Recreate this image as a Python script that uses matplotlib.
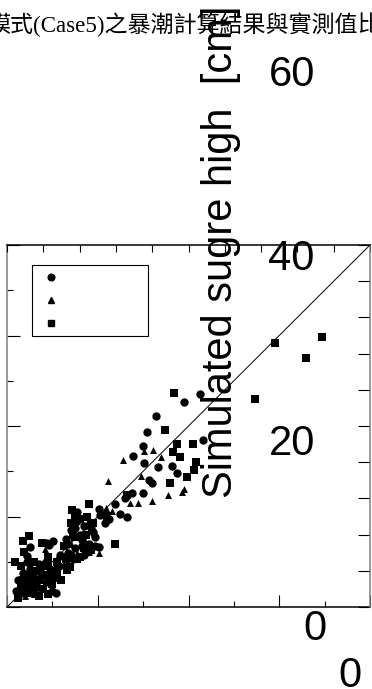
import matplotlib
matplotlib.use("Agg")
import matplotlib.pyplot as plt
from matplotlib.lines import Line2D
from matplotlib.ticker import MultipleLocator

plt.rcParams['font.family'] = ['Liberation Sans', 'DejaVu Sans']

circle_x = [42.5, 39.0, 32.8, 30.9, 43.2, 30.0, 27.8, 30.2, 33.3, 36.4, 37.5, 32.0, 31.4,
            30.0, 27.5, 26.0, 23.8, 20.3, 20.5, 26.4, 24.9, 18.3, 15.4, 20.3, 19.4, 8.8,
            10.1, 9.3, 5.1, 4.4, 11.0, 2.0, 10.8, 11.7,
            2.5, 4.0, 5.0, 6.5, 7.5, 8.5, 9.5, 4.5, 6.0, 10.0, 11.5, 7.0, 3.5,
            3.0, 5.5, 8.0, 9.5, 6.0, 4.0, 12.5,
            13.0, 14.0, 15.0, 16.0, 17.0, 18.0, 13.5, 15.5, 17.0, 19.0, 14.5, 16.5, 21.5, 22.5,
            13.5, 15.0, 16.5, 18.5, 14.0, 19.5]
circle_y = [47.1, 45.3, 42.2, 38.7, 36.9, 35.6, 33.4, 31.8, 30.9, 31.2, 29.6, 27.4, 28.0,
            25.2, 25.2, 24.1, 22.8, 21.7, 20.3, 19.9, 20.6, 18.6, 21.0, 13.3, 15.5, 14.1,
            14.6, 13.7, 13.3, 11.3, 8.6, 3.5, 3.1, 11.5,
            6.0, 4.0, 8.5, 5.0, 7.5, 5.5, 8.5, 10.0, 3.5, 3.5, 9.0, 9.5, 7.5,
            3.0, 7.0, 7.0, 5.5, 6.5, 5.5, 11.0,
            15.0, 17.0, 13.0, 16.0, 18.0, 14.0, 12.0, 19.0, 11.5, 16.5, 10.5, 13.5, 18.5, 19.5,
            14.0, 17.5, 14.8, 17.5, 11.5, 13.5]

tri_x = [30.2, 32.2, 33.9, 25.6, 22.3, 29.5, 39.0, 35.5, 38.6, 32.0, 28.9, 27.1, 21.8, 23.1,
         19.2, 18.1, 20.3, 16.1, 8.4, 5.0, 7.0, 8.0, 4.0, 10.5, 14.0, 17.0, 15.5, 12.5, 6.0]
tri_y = [34.5, 34.7, 33.1, 32.5, 27.8, 28.9, 26.1, 24.8, 25.4, 23.4, 23.0, 23.0, 21.9, 21.2,
         16.4, 12.2, 11.9, 11.0, 12.8, 6.5, 4.5, 10.0, 2.5, 6.5, 14.0, 15.0, 12.0, 9.5, 2.8]

sq_x = [59.1, 69.4, 65.9, 54.7, 36.8, 34.8, 37.5, 41.0, 36.6, 38.1, 41.7, 41.2, 35.9, 39.7,
        26.4, 18.1, 14.3, 15.0, 17.6, 22.0, 23.8, 4.8, 3.5, 3.7, 1.8, 13.9, 13.2, 9.0, 10.6, 7.7,
        3.0, 4.0, 5.0, 6.0, 7.0, 8.0, 9.0, 10.0, 5.0, 7.0, 3.0, 6.0, 8.0, 11.0, 12.0, 9.0,
        7.0, 5.5, 9.0, 3.5, 11.0,
        12.5, 14.0, 15.0, 16.0, 17.5, 18.5, 13.0, 16.0, 2.5,
        14.5, 17.0, 19.0, 15.5]
sq_y = [58.3, 59.7, 55.0, 46.0, 47.3, 39.1, 36.0, 36.0, 34.3, 33.1, 32.0, 30.3, 27.4, 28.7,
        24.8, 22.8, 21.4, 20.3, 19.9, 20.1, 13.9, 15.7, 14.6, 12.2, 9.9, 8.8, 8.2, 11.0, 6.6, 14.1,
        9.0, 7.0, 5.5, 8.0, 6.0, 4.0, 7.0, 5.0, 3.0, 2.5, 4.5, 10.0, 9.0, 7.0, 6.0, 2.8,
        8.0, 4.5, 9.5, 6.0, 10.0,
        13.5, 18.5, 15.5, 11.0, 16.0, 12.5, 10.5, 19.5, 2.0,
        16.0, 13.0, 18.5, 10.5]

big_ticks = [0, 20, 40, 60]
ylabel_text = "Simulated sugre high  [cm]"
title_text = "模式(Case5)之暴潮計算結果與實測值比較"

W, H = 372, 689
fig = plt.figure(figsize=(W / 100, H / 100), dpi=100)


def px_box(left, top, right, bottom):
    # pixel box -> figure fraction rect
    return [left / W, 1 - bottom / H, (right - left) / W, (bottom - top) / H]


ax = fig.add_axes(px_box(7, 245, 370, 607))
ax.set_xlim(0, 80)
ax.set_ylim(0, 80)
ax.plot([0, 80], [0, 80], color='black', lw=0.7, zorder=1)
ax.scatter(circle_x, circle_y, marker='o', s=36, c='black', linewidths=0, zorder=2)
ax.scatter(tri_x, tri_y, marker='^', s=25, c='black', linewidths=0, zorder=2)
ax.scatter(sq_x, sq_y, marker='s', s=38, c='black', linewidths=0, zorder=2)

for axis in (ax.xaxis, ax.yaxis):
    axis.set_major_locator(MultipleLocator(20))
    axis.set_minor_locator(MultipleLocator(10))
ax.tick_params(which='both', direction='in', top=False, right=False,
               labelbottom=False, labelleft=False, width=0.8, color='black')
ax.tick_params(which='major', length=9)
ax.tick_params(which='minor', length=4.5)
ax.spines['top'].set_visible(False)
ax.spines['right'].set_visible(False)
ax.spines['left'].set_color('#808080')
ax.spines['left'].set_linewidth(1.1)
ax.spines['bottom'].set_linewidth(1.1)

handles = [Line2D([], [], ls='none', marker='o', ms=4.8, color='black'),
           Line2D([], [], ls='none', marker='^', ms=3.8, color='black'),
           Line2D([], [], ls='none', marker='s', ms=5, color='black')]
leg = ax.legend(handles, [' ', ' ', ' '], loc='upper left',
                bbox_to_anchor=(25 / 363, 1 - 20 / 362), borderaxespad=0,
                fontsize=10, handlelength=2, handletextpad=5.3, labelspacing=0.65,
                borderpad=0.4, fancybox=False, edgecolor='black', framealpha=1)
leg.get_frame().set_linewidth(0.8)

# second frame: top / right ticks
ax2 = fig.add_axes(px_box(7, 245, 370, 607), facecolor='none')
ax2.set_xlim(0, 100)
ax2.set_ylim(0, 100)
ax2.xaxis.set_major_locator(MultipleLocator(10))
ax2.yaxis.set_major_locator(MultipleLocator(10))
ax2.tick_params(direction='in', bottom=False, left=False, top=True, right=True,
                labelbottom=False, labelleft=False, width=0.8)
ax2.tick_params(axis='x', length=5)
ax2.tick_params(axis='y', length=8.6)
ax2.spines['left'].set_visible(False)
ax2.spines['bottom'].set_visible(False)
ax2.spines['top'].set_linewidth(1.1)
ax2.spines['right'].set_color('#808080')
ax2.spines['right'].set_linewidth(1.1)

# the big floating labels
y0_px, px_per = 624, 9.225
gtop, gbot = 40, 651.5
g = fig.add_axes(px_box(319, gtop, 381, gbot), facecolor='none')
g.set_ylim((y0_px - gbot) / px_per, (y0_px - gtop) / px_per)
g.set_xlim(-1, 1)
g.set_yticks(big_ticks)
g.set_xticks([0])
g.tick_params(length=0, pad=3, labelsize=30)
for s in g.spines.values():
    s.set_visible(False)
g.get_yticklabels()[0].set_ha('center')
g.set_ylabel(ylabel_text, fontsize=30)
g.yaxis.set_label_coords(241 / W, 1 - 252 / H, transform=fig.transFigure)

fig.text(-13 / W, 1 - 32 / H, title_text, fontsize=16.6,
         family=['Liberation Serif', 'Noto Sans CJK TC'], ha='left', va='baseline')

fig.savefig('out.png', dpi=100)
